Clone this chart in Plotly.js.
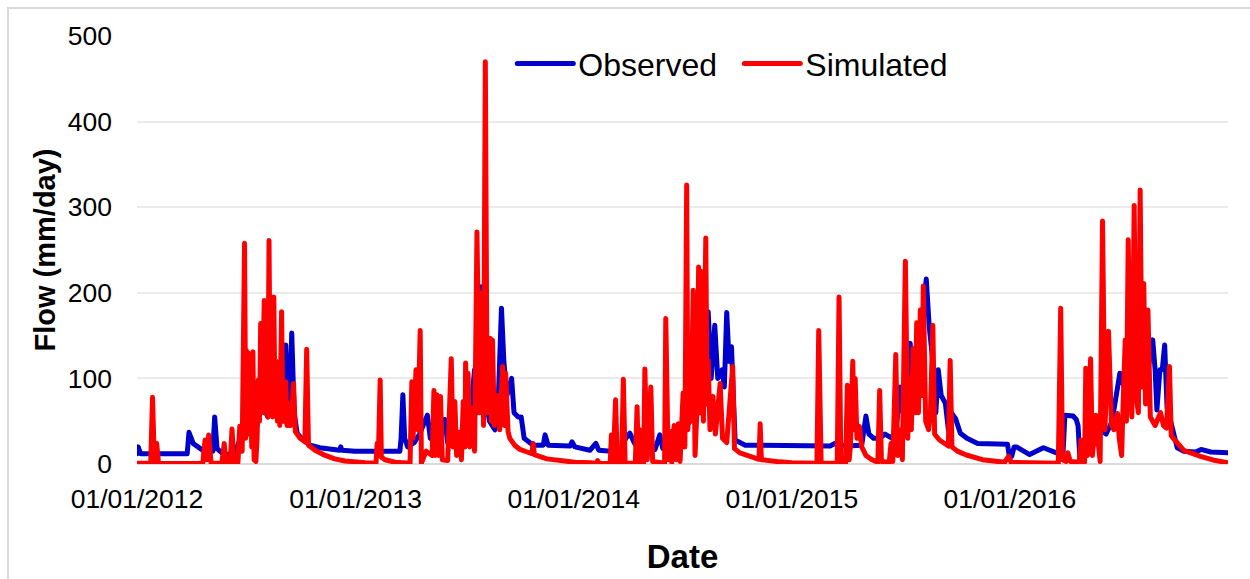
<!DOCTYPE html>
<html>
<head>
<meta charset="utf-8">
<script src="https://cdn.plot.ly/plotly-3.0.1.min.js"></script>
<style>
  html, body { margin: 0; padding: 0; background: #fff; overflow: hidden; }
  #frame { position: absolute; left: 7px; top: 7px; width: 1400px; height: 800px;
           border-left: 2px solid #d9d9d9; border-top: 2px solid #d9d9d9; }
  #chart { position: absolute; left: 0; top: 0; width: 1250px; height: 579px; }
  #chart path.js-line { stroke-linejoin: round; stroke-linecap: round; }
</style>
</head>
<body>
<div id="frame"></div>
<div id="chart"></div>
<script>
// Daily flow, observed vs simulated (mm/day), 2012-2016
const obsDates = [
  '2012-01-01','2012-01-03','2012-01-07','2012-03-25','2012-03-28','2012-04-04','2012-04-12','2012-04-24',
  '2012-05-07','2012-05-10','2012-05-14','2012-05-27','2012-06-13','2012-06-25','2012-06-28','2012-07-08',
  '2012-07-18','2012-07-28','2012-08-07','2012-08-17','2012-08-26','2012-09-01','2012-09-06','2012-09-10',
  '2012-09-13','2012-09-16','2012-09-20','2012-09-25','2012-10-05','2012-10-17','2012-11-02','2012-12-05',
  '2012-12-07','2012-12-09','2012-12-31',
  '2013-01-25','2013-03-16','2013-03-18','2013-03-21','2013-03-24','2013-03-29','2013-04-09','2013-04-18',
  '2013-05-01','2013-05-06','2013-05-18','2013-05-30','2013-06-04','2013-06-16','2013-06-27','2013-07-11',
  '2013-07-19','2013-07-24','2013-07-30','2013-08-03','2013-08-13','2013-08-22','2013-08-27','2013-09-02',
  '2013-09-06','2013-09-11','2013-09-19','2013-09-23','2013-09-30','2013-10-05','2013-10-10','2013-10-25',
  '2013-11-11','2013-11-14','2013-11-19','2013-12-26','2013-12-29',
  '2014-01-03','2014-01-28','2014-02-07','2014-02-12','2014-03-19','2014-03-29','2014-04-05','2014-04-12',
  '2014-04-22','2014-05-17','2014-05-25','2014-05-30','2014-06-14','2014-06-28','2014-07-14','2014-07-28',
  '2014-08-07','2014-08-14','2014-08-19','2014-08-25','2014-08-30','2014-09-06','2014-09-10','2014-09-14',
  '2014-09-18','2014-09-22','2014-09-25','2014-09-28','2014-10-15','2014-12-29',
  '2015-03-06','2015-03-14','2015-03-31','2015-04-28','2015-05-05','2015-05-10','2015-05-18','2015-05-28',
  '2015-06-06','2015-06-18','2015-06-26','2015-07-01','2015-07-06','2015-07-13','2015-07-18','2015-07-23',
  '2015-07-31','2015-08-07','2015-08-14','2015-08-19','2015-08-25','2015-08-30','2015-09-03','2015-09-08',
  '2015-09-15','2015-09-20','2015-09-25','2015-10-02','2015-10-10','2015-10-21','2015-11-08','2015-12-28',
  '2015-12-31',
  '2016-01-04','2016-01-08','2016-01-12','2016-02-03','2016-02-26','2016-03-19','2016-03-30','2016-04-02',
  '2016-04-16','2016-04-21','2016-04-24','2016-04-27','2016-05-11','2016-05-22','2016-05-31','2016-06-10',
  '2016-06-20','2016-06-28','2016-07-03','2016-07-10','2016-07-20','2016-07-30','2016-08-09','2016-08-19',
  '2016-08-27','2016-08-31','2016-09-03','2016-09-08','2016-09-12','2016-09-16','2016-09-20','2016-09-26',
  '2016-10-02','2016-10-07','2016-10-18','2016-11-07','2016-11-16','2016-12-02','2016-12-31'
];
const obsFlow = [
  12,20,12,12,37,24,20,14,
  15,55,18,10,14,35,45,60,
  40,70,55,80,60,90,139,70,
  80,153,60,36,28,22,19,16,
  20,16,15,
  15,15,30,81,30,20,25,35,
  57,30,25,52,25,35,30,50,
  110,60,207,90,50,40,60,182,
  120,80,100,60,55,55,30,22,
  22,34,22,21,26,
  20,16,24,16,14,30,36,25,
  15,17,34,18,20,30,50,80,
  110,178,100,162,100,110,90,177,
  120,137,90,28,22,21,
  21,24,21,22,56,35,30,30,
  35,30,50,90,60,90,141,100,
  120,170,216,160,120,60,110,80,
  71,40,60,53,36,30,24,23,
  9,
  9,20,20,11,19,13,14,57,
  56,52,45,8,15,25,40,35,
  50,80,106,90,70,100,110,110,
  145,110,63,110,110,139,66,50,
  34,19,15,14,17,14,13
];

const simDates = [
  '2012-01-01','2012-01-24','2012-01-27','2012-01-30','2012-02-02','2012-02-03','2012-02-06','2012-04-20',
  '2012-04-24','2012-04-27','2012-04-30','2012-05-04','2012-05-22','2012-05-26','2012-05-29','2012-06-05',
  '2012-06-08','2012-06-11','2012-06-18','2012-06-21','2012-06-25','2012-06-29','2012-07-01','2012-07-02',
  '2012-07-03','2012-07-05','2012-07-07','2012-07-09','2012-07-11','2012-07-13','2012-07-15','2012-07-18',
  '2012-07-20','2012-07-22','2012-07-24','2012-07-26','2012-07-28','2012-07-30','2012-08-01','2012-08-03',
  '2012-08-05','2012-08-07','2012-08-09','2012-08-11','2012-08-13','2012-08-15','2012-08-17','2012-08-19',
  '2012-08-21','2012-08-23','2012-08-25','2012-08-27','2012-08-30','2012-09-01','2012-09-03','2012-09-06',
  '2012-09-08','2012-09-11','2012-09-14','2012-09-19','2012-09-22','2012-09-30','2012-10-08','2012-10-11',
  '2012-10-14','2012-10-25','2012-11-11','2012-11-27','2012-12-14','2012-12-31',
  '2013-01-17','2013-02-04','2013-02-06','2013-02-08','2013-02-11','2013-02-13','2013-02-19','2013-03-08',
  '2013-04-02','2013-04-05','2013-04-07','2013-04-12','2013-04-15','2013-04-19','2013-04-21','2013-04-29',
  '2013-05-09','2013-05-12','2013-05-14','2013-05-17','2013-05-20','2013-05-23','2013-05-26','2013-06-04',
  '2013-06-07','2013-06-10','2013-06-13','2013-06-16','2013-06-19','2013-06-24','2013-06-27','2013-06-30',
  '2013-07-03','2013-07-04','2013-07-06','2013-07-08','2013-07-11','2013-07-17','2013-07-19','2013-07-23',
  '2013-07-27','2013-07-31','2013-08-03','2013-08-06','2013-08-09','2013-08-14','2013-08-16','2013-08-18',
  '2013-08-21','2013-08-27','2013-08-30','2013-09-04','2013-09-07','2013-09-09','2013-09-13','2013-09-16',
  '2013-09-24','2013-10-03','2013-10-15','2013-10-23','2013-10-25','2013-10-27','2013-11-17','2013-12-09',
  '2014-01-03','2014-01-28','2014-02-09','2014-02-10','2014-02-12','2014-03-03','2014-03-05','2014-03-08',
  '2014-03-12','2014-03-15','2014-03-22','2014-03-25','2014-03-28','2014-04-14','2014-04-17','2014-04-19',
  '2014-04-22','2014-04-24','2014-04-28','2014-04-30','2014-05-04','2014-05-06','2014-05-10','2014-05-13',
  '2014-06-02','2014-06-04','2014-06-08','2014-06-12','2014-06-14','2014-06-18','2014-06-21','2014-06-25',
  '2014-06-28','2014-07-03','2014-07-06','2014-07-09','2014-07-11','2014-07-13','2014-07-16','2014-07-20',
  '2014-07-23','2014-07-26','2014-07-29','2014-08-01','2014-08-03','2014-08-06','2014-08-10','2014-08-12',
  '2014-08-14','2014-08-17','2014-08-22','2014-08-26','2014-09-03','2014-09-07','2014-09-14','2014-09-24',
  '2014-09-27','2014-10-06','2014-10-28','2014-11-07','2014-11-09','2014-11-11','2014-12-12',
  '2015-01-01','2015-02-12','2015-02-15','2015-02-19','2015-03-18','2015-03-21','2015-03-24','2015-04-01',
  '2015-04-04','2015-04-07','2015-04-09','2015-04-13','2015-04-15','2015-04-17','2015-04-20','2015-04-24',
  '2015-04-28','2015-05-05','2015-05-15','2015-05-25','2015-05-28','2015-05-31','2015-06-13','2015-06-16',
  '2015-06-19','2015-06-24','2015-06-27','2015-07-02','2015-07-05','2015-07-10','2015-07-14','2015-07-17',
  '2015-07-20','2015-07-23','2015-07-26','2015-07-29','2015-08-01','2015-08-04','2015-08-07','2015-08-09',
  '2015-08-13','2015-08-18','2015-08-21','2015-08-25','2015-08-28','2015-09-05','2015-09-13','2015-09-20',
  '2015-09-23','2015-09-26','2015-10-05','2015-10-20','2015-11-16','2015-12-23','2015-12-30',
  '2016-01-03','2016-03-22','2016-03-26','2016-03-29','2016-04-04','2016-04-07','2016-04-11','2016-04-26',
  '2016-04-29','2016-05-02','2016-05-05','2016-05-07','2016-05-10','2016-05-12','2016-05-15','2016-05-18',
  '2016-05-21','2016-05-24','2016-05-27','2016-05-31','2016-06-04','2016-06-08','2016-06-14','2016-06-17',
  '2016-06-19','2016-06-23','2016-06-29','2016-07-02','2016-07-06','2016-07-08','2016-07-12','2016-07-14',
  '2016-07-17','2016-07-20','2016-07-23','2016-07-27','2016-07-30','2016-08-03','2016-08-06','2016-08-09',
  '2016-08-12','2016-08-15','2016-08-19','2016-08-23','2016-08-31','2016-09-09','2016-09-14','2016-09-19',
  '2016-09-24','2016-09-27','2016-10-01','2016-10-09','2016-10-18','2016-11-15','2016-12-10','2016-12-31'
];
const simFlow = [
  1,1,78,1,1,24,1,0.5,
  28,5,34,1,1,24,1,1,
  41,2,2,44,15,258,30,133,
  40,130,35,128,20,131,5,3,
  30,98,50,164,60,120,191,60,
  150,55,261,60,140,55,195,60,
  120,50,110,45,178,50,80,96,
  45,70,45,94,38,30,26,134,
  22,16,10,6,3.5,2,
  1.5,1,24,10,98,8,5,2,
  1,96,30,110,40,156,1,15,
  10,86,10,81,10,79,5,4,
  50,123,20,73,10,37,5,73,
  20,118,60,106,20,66,15,271,
  60,200,45,470,60,147,50,145,
  45,80,40,114,45,106,38,30,
  22,17,14,12,24,11,6,3.5,
  2,1.5,1,4,1,0.5,34,1,
  75,1,1,99,1,1,67,1,
  40,1,1,111,5,40,90,3,
  1,170,5,38,2,45,5,47,
  3,83,20,326,40,75,50,203,
  10,60,230,60,225,50,264,70,
  121,40,79,35,94,30,25,114,
  18,13,7,5.5,47,5,2.5,
  1.5,1,156,1,1,195,1,1,
  92,5,20,120,40,100,30,44,
  20,10,5,2,86,3,2,24,
  3,128,10,40,5,237,30,100,
  40,135,60,165,60,180,80,208,
  50,40,60,162,35,28,24,21,
  121,20,15,10.5,5,2,9,
  2,1,182,5,3,13,3,2,
  28,3,2,112,10,60,123,10,
  30,57,30,3,284,40,155,60,
  46,40,59,30,10,60,145,50,
  262,100,55,302,80,60,320,90,
  211,70,180,55,45,60,45,42,
  114,33,30,22,16,9,4,1.5
];

const tickDates  = ['2012-01-01','2013-01-01','2014-01-01','2015-01-01','2016-01-01'];
const tickLabels = ['01/01/2012','01/01/2013','01/01/2014','01/01/2015','01/01/2016'];
const yTicks     = [0,100,200,300,400,500];

const FONT = 'Liberation Sans, Arial, Helvetica, sans-serif';

const traces = [
  { type: 'scatter', mode: 'lines', name: 'Observed', x: obsDates, y: obsFlow,
    line: { color: '#0000cc', width: 5, shape: 'linear' }, hoverinfo: 'skip' },
  { type: 'scatter', mode: 'lines', name: 'Simulated', x: simDates, y: simFlow,
    line: { color: '#ff0000', width: 5, shape: 'linear' }, hoverinfo: 'skip' }
];

const layout = {
  width: 1250, height: 579,
  margin: { l: 137, r: 22, t: 36, b: 115, pad: 0 },
  paper_bgcolor: 'rgba(0,0,0,0)',
  plot_bgcolor: 'rgba(0,0,0,0)',
  font: { family: FONT, color: '#000000' },
  showlegend: true,
  legend: {
    orientation: 'h', x: 0.344, y: 0.935, xanchor: 'left', yanchor: 'middle',
    font: { size: 32, family: FONT, color: '#000000' },
    bgcolor: 'rgba(0,0,0,0)', borderwidth: 0, itemwidth: 56, entrywidth: 156
  },
  xaxis: {
    type: 'date', range: ['2012-01-01', '2016-12-31'],
    tickmode: 'array', tickvals: tickDates, ticktext: tickLabels,
    tickfont: { size: 26.5, family: FONT, color: '#000000' },
    ticks: '', ticklabelstandoff: 16,
    showgrid: false, zeroline: false, showline: false, fixedrange: true,
    title: { text: 'Date', font: { size: 33, family: FONT, weight: 'bold', color: '#000000' }, standoff: 32 }
  },
  yaxis: {
    range: [0, 500], tickmode: 'array', tickvals: yTicks,
    tickfont: { size: 26.5, family: FONT, color: '#000000' },
    ticks: '', ticklabelstandoff: 24,
    showgrid: true, gridcolor: '#ebebeb', gridwidth: 2,
    zeroline: true, zerolinecolor: '#d9d9d9', zerolinewidth: 2,
    showline: false, fixedrange: true,
    title: { text: 'Flow (mm/day)', font: { size: 29, family: FONT, weight: 'bold', color: '#000000' }, standoff: 3 }
  }
};

Plotly.newPlot('chart', traces, layout, { staticPlot: true, displayModeBar: false });
</script>
</body>
</html>
